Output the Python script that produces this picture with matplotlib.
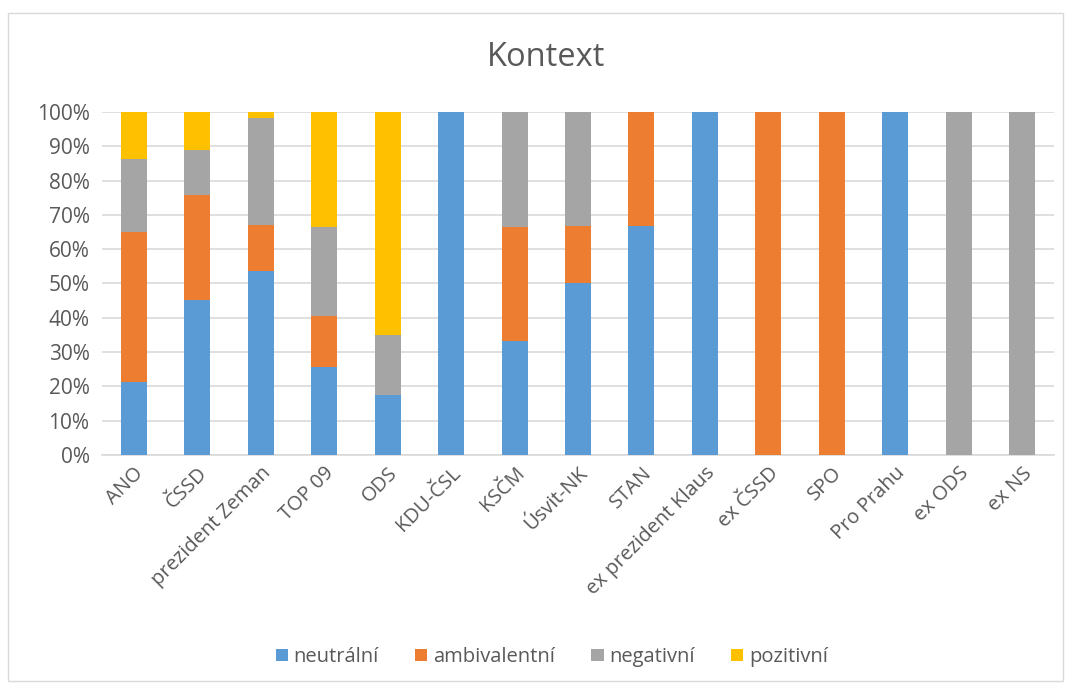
import matplotlib.pyplot as plt
import numpy as np
from matplotlib.ticker import PercentFormatter

strany = ['ANO', 'ČSSD', 'prezident Zeman', 'TOP 09', 'ODS', 'KDU-ČSL', 'KSČM',
          'Úsvit-NK', 'STAN', 'ex prezident Klaus', 'ex ČSSD', 'SPO', 'Pro Prahu',
          'ex ODS', 'ex NS']

neutralni = [21.2, 45.3, 53.5, 25.7, 17.4, 100, 33.3, 50.0, 66.7, 100, 0, 0, 100, 0, 0]
ambivalentni = [43.8, 30.4, 13.5, 14.8, 0, 0, 33.3, 16.7, 33.3, 0, 100, 100, 0, 0, 0]
negativni = [21.3, 13.1, 31.3, 25.9, 17.7, 0, 33.4, 33.3, 0, 0, 0, 0, 0, 100, 100]
pozitivni = [13.7, 11.2, 1.7, 33.6, 64.9, 0, 0, 0, 0, 0, 0, 0, 0, 0, 0]

serie = [('neutrální', neutralni, '#5B9BD5'),
         ('ambivalentní', ambivalentni, '#ED7D31'),
         ('negativní', negativni, '#A5A5A5'),
         ('pozitivní', pozitivni, '#FFC000')]

plt.rcParams['font.family'] = ['Open Sans', 'DejaVu Sans']
text_col = '#595959'

fig = plt.figure(figsize=(10.71, 6.89), dpi=100)
ax = fig.add_axes([102 / 1071, 1 - 455 / 689, (1054 - 102) / 1071, (455 - 112) / 689])

x = np.arange(len(strany))
spodek = np.zeros(len(strany))
for nazev, hodnoty, barva in serie:
    ax.bar(x, hodnoty, 0.41, bottom=spodek, color=barva, label=nazev, zorder=3)
    spodek += np.array(hodnoty)

ax.set_xlim(-0.5, len(strany) - 0.5)
ax.set_ylim(0, 100)
ax.set_yticks(np.arange(0, 101, 10))
ax.yaxis.set_major_formatter(PercentFormatter(decimals=0))
ax.grid(axis='y', color='#D9D9D9', linewidth=1.2, zorder=0)
for s in ['top', 'right', 'left']:
    ax.spines[s].set_visible(False)
ax.spines['bottom'].set_color('#D9D9D9')
ax.spines['bottom'].set_linewidth(1.2)
ax.tick_params(axis='y', length=0, colors=text_col, labelsize=15, pad=9)
ax.tick_params(axis='x', length=0, colors=text_col, labelsize=14.5, pad=6)
ax.set_xticks(x)
ax.set_xticklabels(strany, rotation=45, ha='right', rotation_mode='anchor')

fig.text(546 / 1071, 1 - 58 / 689, 'Kontext', ha='center', va='center', fontsize=23.5, color=text_col)

fig.legend(loc='center', bbox_to_anchor=(552 / 1071, 1 - 657 / 689), ncol=4, frameon=False,
           fontsize=14.5, labelcolor=text_col, handlelength=0.6, handleheight=0.6,
           handletextpad=0.3, columnspacing=1.8)

# ramecek kolem grafu
fig.patches.append(plt.Rectangle((8 / 1071, 1 - 681 / 689), 1055 / 1071, 668 / 689,
                                 transform=fig.transFigure, fill=False,
                                 edgecolor='#D9D9D9', linewidth=1))

fig.savefig('out.png', dpi=100)
